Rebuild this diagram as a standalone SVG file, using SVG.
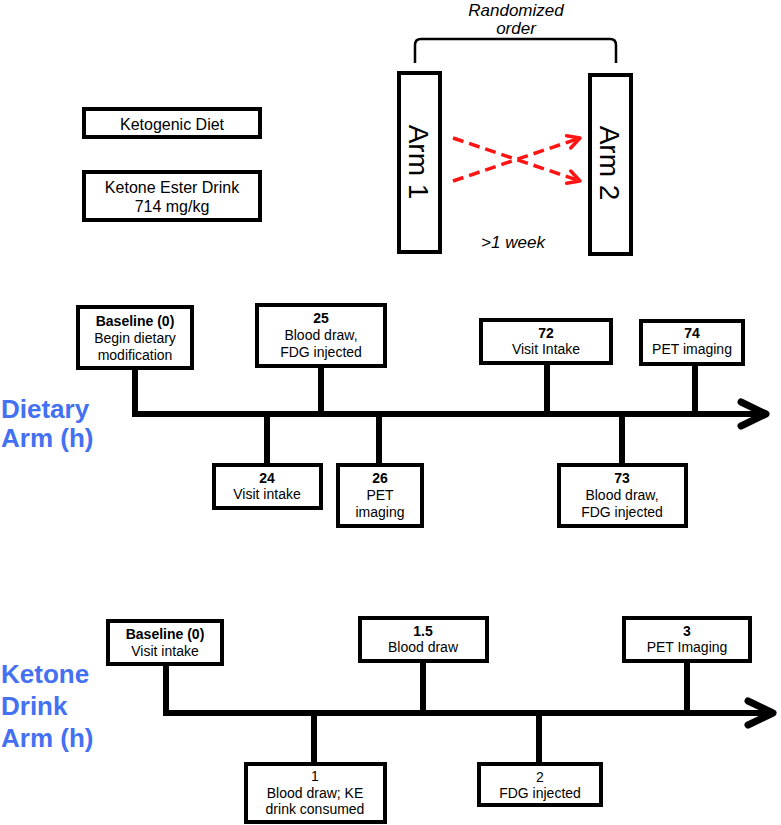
<svg xmlns="http://www.w3.org/2000/svg" width="781" height="825" viewBox="0 0 781 825">
<style>
  .box { fill: #fff; stroke: #000; stroke-width: 4; }
  .t { font-family: "Liberation Sans", Arial, sans-serif; font-size: 14px; fill: #000; text-anchor: middle; }
  .b { font-weight: bold; }
  .tl { font-family: "Liberation Sans", Arial, sans-serif; font-size: 16px; fill: #000; text-anchor: middle; }
  .it { font-family: "Liberation Sans", Arial, sans-serif; font-size: 17px; font-style: italic; fill: #000; text-anchor: middle; }
  .arm { font-family: "Liberation Sans", Arial, sans-serif; font-size: 28px; fill: #000; text-anchor: middle; }
  .lab { font-family: "Liberation Sans", Arial, sans-serif; font-size: 26px; font-weight: bold; fill: #4470f2; }
  .conn { stroke: #000; stroke-width: 6; fill: none; }
  .axis { stroke: #000; stroke-width: 6; fill: none; marker-end: url(#axhead); }
  .red { stroke: #ff1414; stroke-width: 3.5; fill: none; stroke-dasharray: 11 6; marker-end: url(#redhead); }
</style>
<defs>
  <marker id="axhead" markerUnits="userSpaceOnUse" markerWidth="40" markerHeight="40" viewBox="-34 -20 40 40" refX="0" refY="0" orient="auto" overflow="visible">
    <path d="M-25,-12 L0,0 L-25,12" fill="none" stroke="#000" stroke-width="7" stroke-linecap="round" stroke-linejoin="round"/>
  </marker>
  <marker id="redhead" markerUnits="userSpaceOnUse" markerWidth="30" markerHeight="30" viewBox="-20 -15 30 30" refX="0" refY="0" orient="auto" overflow="visible">
    <path d="M-12,-6.5 L0,0 L-12,6.5" fill="none" stroke="#ff1414" stroke-width="3.5" stroke-dasharray="none" stroke-linecap="round" stroke-linejoin="round"/>
  </marker>
</defs>
<rect width="781" height="825" fill="#fff"/>

<!-- Top legend -->
<g id="ketogenic-diet">
  <rect class="box" x="84" y="109" width="176" height="28"/>
  <text class="tl" x="172" y="130">Ketogenic Diet</text>
</g>
<g id="ketone-ester-drink">
  <rect class="box" x="84" y="172" width="176" height="48"/>
  <text class="tl" x="172" y="193">Ketone Ester Drink</text>
  <text class="tl" x="172" y="212">714 mg/kg</text>
</g>

<g id="randomized">
  <text class="it" x="516" y="16">Randomized</text>
  <text class="it" x="516" y="34">order</text>
  <path d="M415,63 V45 Q415,39 421,39 H610 Q616,39 616,45 V63" fill="none" stroke="#000" stroke-width="2.5"/>
</g>
<g id="arm1">
  <rect class="box" x="399" y="73" width="41" height="179"/>
  <text class="arm" transform="translate(409,162) rotate(90)">Arm 1</text>
</g>
<g id="arm2">
  <rect class="box" x="590" y="75" width="41" height="179"/>
  <text class="arm" transform="translate(600,163) rotate(90)">Arm 2</text>
</g>
<g id="washout">
  <text class="it" x="513" y="248">&gt;1 week</text>
</g>
<g id="crossover-arrows">
  <line class="red" x1="453" y1="138" x2="580" y2="181"/>
  <line class="red" x1="453" y1="181" x2="580" y2="138"/>
</g>

<!-- Dietary arm -->
<g id="dietary-label">
  <text class="lab" x="1" y="418">Dietary</text>
  <text class="lab" x="1" y="447">Arm (h)</text>
</g>
<g id="dietary-connectors">
  <path class="axis" d="M135,368 V414 H766"/>
  <line class="conn" x1="321" y1="366" x2="321" y2="414"/>
  <line class="conn" x1="547" y1="363" x2="547" y2="414"/>
  <line class="conn" x1="695" y1="364" x2="695" y2="414"/>
  <line class="conn" x1="267" y1="414" x2="267" y2="464"/>
  <line class="conn" x1="379" y1="414" x2="379" y2="464"/>
  <line class="conn" x1="622" y1="414" x2="622" y2="464"/>
</g>
<g id="d-baseline">
  <rect class="box" x="78" y="307" width="114" height="61"/>
  <text class="t b" x="135" y="326">Baseline (0)</text>
  <text class="t" x="135" y="343">Begin dietary</text>
  <text class="t" x="135" y="360">modification</text>
</g>
<g id="d-25">
  <rect class="box" x="257" y="305" width="128" height="61"/>
  <text class="t b" x="321" y="323">25</text>
  <text class="t" x="321" y="340">Blood draw,</text>
  <text class="t" x="321" y="357">FDG injected</text>
</g>
<g id="d-72">
  <rect class="box" x="481" y="320" width="130" height="43"/>
  <text class="t b" x="546" y="338">72</text>
  <text class="t" x="546" y="354">Visit Intake</text>
</g>
<g id="d-74">
  <rect class="box" x="641" y="321" width="102" height="43"/>
  <text class="t b" x="692" y="338">74</text>
  <text class="t" x="692" y="354">PET imaging</text>
</g>
<g id="d-24">
  <rect class="box" x="214" y="465" width="107" height="43"/>
  <text class="t b" x="267" y="483">24</text>
  <text class="t" x="267" y="499">Visit intake</text>
</g>
<g id="d-26">
  <rect class="box" x="338" y="465" width="84" height="61"/>
  <text class="t b" x="380" y="483">26</text>
  <text class="t" x="380" y="500">PET</text>
  <text class="t" x="380" y="517">imaging</text>
</g>
<g id="d-73">
  <rect class="box" x="559" y="465" width="127" height="61"/>
  <text class="t b" x="622" y="483">73</text>
  <text class="t" x="622" y="500">Blood draw,</text>
  <text class="t" x="622" y="517">FDG injected</text>
</g>

<!-- Ketone drink arm -->
<g id="ketone-label">
  <text class="lab" x="1" y="683">Ketone</text>
  <text class="lab" x="1" y="715">Drink</text>
  <text class="lab" x="1" y="747">Arm (h)</text>
</g>
<g id="ketone-connectors">
  <path class="axis" d="M166,664 V713 H773"/>
  <line class="conn" x1="423" y1="661" x2="423" y2="713"/>
  <line class="conn" x1="687" y1="661" x2="687" y2="713"/>
  <line class="conn" x1="314" y1="713" x2="314" y2="763"/>
  <line class="conn" x1="539" y1="713" x2="539" y2="763"/>
</g>
<g id="k-baseline">
  <rect class="box" x="108" y="621" width="114" height="43"/>
  <text class="t b" x="165" y="639">Baseline (0)</text>
  <text class="t" x="165" y="656">Visit intake</text>
</g>
<g id="k-1-5">
  <rect class="box" x="360" y="618" width="127" height="43"/>
  <text class="t b" x="423" y="636">1.5</text>
  <text class="t" x="423" y="652">Blood draw</text>
</g>
<g id="k-3">
  <rect class="box" x="624" y="618" width="126" height="43"/>
  <text class="t b" x="687" y="636">3</text>
  <text class="t" x="687" y="652">PET Imaging</text>
</g>
<g id="k-1">
  <rect class="box" x="246" y="764" width="139" height="58"/>
  <text class="t" x="315" y="781">1</text>
  <text class="t" x="315" y="798">Blood draw; KE</text>
  <text class="t" x="315" y="814">drink consumed</text>
</g>
<g id="k-2">
  <rect class="box" x="479" y="764" width="122" height="41"/>
  <text class="t" x="540" y="782">2</text>
  <text class="t" x="540" y="798">FDG injected</text>
</g>
</svg>
